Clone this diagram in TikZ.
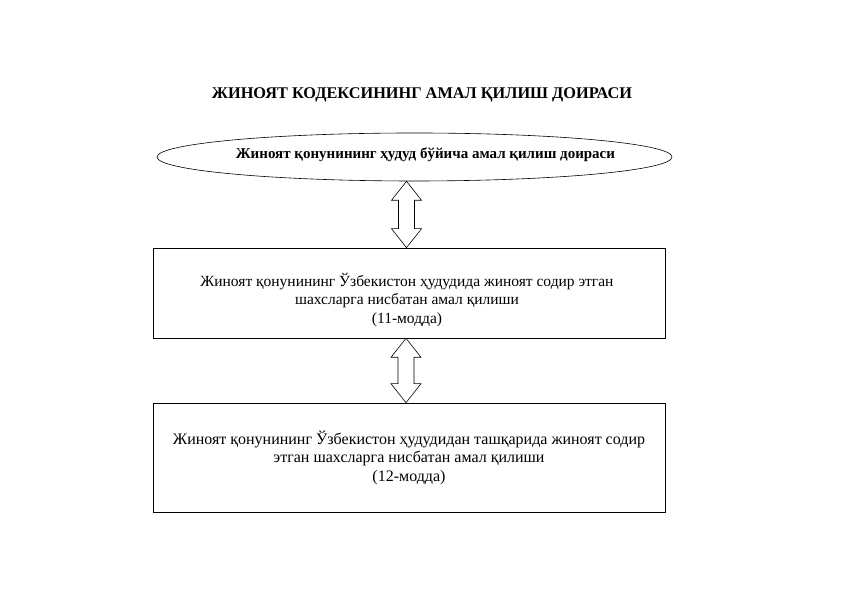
\documentclass[tikz,border=0pt]{standalone}
\usepackage{fontspec}
\setmainfont{Liberation Serif}
\usetikzlibrary{calc,positioning,shapes.geometric}
\tikzset{%
	heading/.style   = {font=\fontsize{16.3}{18}\selectfont\bfseries},
	scope/.style     = {draw, ellipse, line width=0.6pt, minimum width=515pt, minimum height=48pt, inner sep=0pt},
	scopetext/.style = {font=\fontsize{15}{18}\selectfont\bfseries, inner sep=0pt},
	block/.style     = {draw, rectangle, line width=0.6pt, minimum width=512pt, align=center, font=\fontsize{16}{18.5}\selectfont},
	twoway/.style    = {draw, line width=0.6pt, fill=white},
}
% hollow double arrow between two points
\newcommand{\twowayarrow}[2]{%
	\draw[twoway] let \p1=(#1), \p2=(#2) in
		(\x1,\y1) -- (\x1+15pt,\y1-19pt) -- (\x1+8pt,\y1-19pt) -- (\x1+8pt,\y2+19pt)
		-- (\x1+15pt,\y2+19pt) -- (\x1,\y2) -- (\x1-15pt,\y2+19pt) -- (\x1-8pt,\y2+19pt)
		-- (\x1-8pt,\y1-19pt) -- (\x1-15pt,\y1-19pt) -- cycle;}
\begin{document}
\begin{tikzpicture}[x=1pt,y=1pt]
	\useasboundingbox (0,0) rectangle (842,596);
	\node [heading] (T) at (422,501) {ЖИНОЯТ КОДЕКСИНИНГ АМАЛ ҚИЛИШ ДОИРАСИ};
	\node [scope, label={[scopetext, xshift=11pt, yshift=2pt]center:Жиноят қонунининг ҳудуд бўйича амал қилиш доираси}] (E) at (414.5,439) {};
	\node [block, minimum height=90pt] (B1) at (409,303) {};
	\node [block, minimum height=109pt] (B2) at (409,138.5) {Жиноят қонунининг Ўзбекистон ҳудудидан ташқарида жиноят содир\\этган шахсларга нисбатан амал қилиши\\(12-модда)};
	\node [font=\fontsize{15.5}{18.5}\selectfont, align=center] (B1t) at (407,296) {Жиноят қонунининг Ўзбекистон ҳудудида жиноят содир этган\\шахсларга нисбатан амал қилиши\\(11-модда)};
	
	\path (E.south) ++(-8,0) coordinate (a1) (B1.north) ++(-3,0) coordinate (b1);
	\path (B1.south) ++(-3,0) coordinate (a2) (B2.north) ++(-3,0) coordinate (b2);
	\twowayarrow{a1}{b1}
	\twowayarrow{a2}{b2}
\end{tikzpicture}
\end{document}
